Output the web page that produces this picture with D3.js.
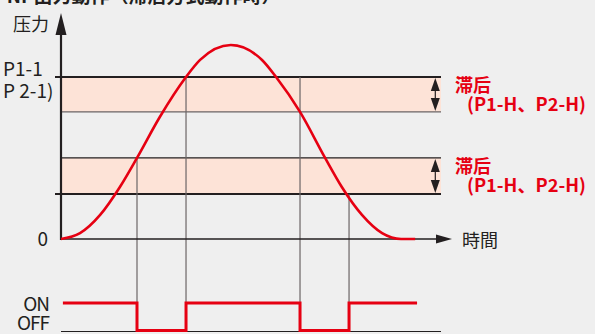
<!DOCTYPE html>
<html>
<head>
<meta charset="utf-8">
<script src="https://d3js.org/d3.v7.min.js"></script>
<style>
  html, body { margin: 0; padding: 0; background: #efefef; }
  svg { display: block; font-family: "Noto Sans CJK JP", "Noto Sans", sans-serif; }
</style>
</head>
<body>
<div id="chart"></div>
<script>
////////////////////
// DATA

// pressure curve (time 0-100, pressure 0-100)
var curveTime = [0, 5, 10.3, 15.5, 20, 26, 32.9, 36.6, 44.7, 52.9, 56.6, 62.9, 69.5, 73.9, 79.2, 84.5, 89.5, 93.2];
var curvePressure = [0, 3, 12.4, 26.8, 41.8, 62.9, 83.5, 92.3, 100, 92.3, 83.5, 65.5, 41.8, 26.8, 12.4, 3, 0, 0];

// hysteresis bands [low, high]
var bandLow = [65.5, 23.2];
var bandHigh = [83.5, 41.8];
var bandLabel = ["滞后", "滞后"];
var bandSub = ["(P1-H、P2-H)", "(P1-H、P2-H)"];

// switching points and the level each guide line starts from
var switchTime = [20, 32.9, 62.9, 75.8];
var switchLevel = [41.8, 83.5, 83.5, 23.2];

// output states
var outTime = [0.5, 20, 20, 32.9, 32.9, 62.9, 62.9, 75.8, 75.8, 93.7];
var outState = ["ON", "ON", "OFF", "OFF", "ON", "ON", "OFF", "OFF", "ON", "ON"];

var yLabels = ["P1-1", "P 2-1)"];
var title = "PNP出力動作（滞后方式動作時）";

////////////////////
// SETUP
var w = 595, h = 334;
var red = "#e60012";
var ink = "#231f20";

var x = d3.scaleLinear().domain([0, 100]).range([61, 441]);
var y = d3.scaleLinear().domain([0, 100]).range([239, 45]);
var yOut = d3.scaleOrdinal().domain(["ON", "OFF"]).range([303, 330.5]);

var svg = d3.select("#chart").append("svg")
  .attr("width", w)
  .attr("height", h);

// title (cut off at the top in the original)
svg.append("text")
  .attr("x", -6).attr("y", 3)
  .attr("font-size", 19).attr("font-weight", "bold")
  .attr("fill", ink)
  .text(title);

////////////////////
// BANDS
var bands = d3.range(bandLow.length);

svg.selectAll("rect.band")
  .data(bands).enter().append("rect")
  .attr("class", "band")
  .attr("x", x(0))
  .attr("y", function(i) { return y(bandHigh[i]); })
  .attr("width", x(100) - x(0))
  .attr("height", function(i) { return y(bandLow[i]) - y(bandHigh[i]); })
  .attr("fill", "#fde3d7");

// band edges: the outer ones carry a small tick on the axis
svg.selectAll("line.hi")
  .data(bands).enter().append("line")
  .attr("x1", function(i) { return i == 0 ? x(0) - 6 : x(0); })
  .attr("x2", x(100))
  .attr("y1", function(i) { return y(bandHigh[i]); })
  .attr("y2", function(i) { return y(bandHigh[i]); })
  .attr("stroke", ink).attr("stroke-width", function(i) { return i == 0 ? 1.8 : 1.3; });

svg.selectAll("line.lo")
  .data(bands).enter().append("line")
  .attr("x1", function(i) { return i == 1 ? x(0) - 6 : x(0); })
  .attr("x2", x(100))
  .attr("y1", function(i) { return y(bandLow[i]); })
  .attr("y2", function(i) { return y(bandLow[i]); })
  .attr("stroke", function(i) { return i == 0 ? "#6b6566" : ink; })
  .attr("stroke-width", function(i) { return i == 1 ? 1.8 : 1.3; });

// double arrows + labels
var ax = x(98.5);
bands.forEach(function(i) {
  var top = y(bandHigh[i]), bot = y(bandLow[i]);
  svg.append("line")
    .attr("x1", ax).attr("x2", ax)
    .attr("y1", top + 4).attr("y2", bot - 4)
    .attr("stroke", ink).attr("stroke-width", 1.2);
  svg.append("path")
    .attr("d", "M" + ax + "," + (top + 1) + "L" + (ax - 4.5) + "," + (top + 14) + "L" + (ax + 4.5) + "," + (top + 14) + "Z")
    .attr("fill", ink);
  svg.append("path")
    .attr("d", "M" + ax + "," + (bot - 1) + "L" + (ax - 4.5) + "," + (bot - 14) + "L" + (ax + 4.5) + "," + (bot - 14) + "Z")
    .attr("fill", ink);
  svg.append("text")
    .attr("x", 455).attr("y", top + 15)
    .attr("font-size", 18).attr("font-weight", "bold").attr("fill", red)
    .text(bandLabel[i]);
  svg.append("text")
    .attr("x", 467).attr("y", top + 34)
    .attr("font-size", 18).attr("font-weight", "bold").attr("fill", red)
    .attr("textLength", 119).attr("lengthAdjust", "spacingAndGlyphs")
    .text(bandSub[i]);
});

////////////////////
// GUIDE LINES
svg.selectAll("line.guide")
  .data(switchTime).enter().append("line")
  .attr("x1", function(d) { return x(d); })
  .attr("x2", function(d) { return x(d); })
  .attr("y1", function(d, i) { return y(switchLevel[i]); })
  .attr("y2", yOut("OFF"))
  .attr("stroke", "#6b6566").attr("stroke-width", 1.2);

////////////////////
// AXES
svg.append("line")
  .attr("x1", x(0)).attr("x2", x(0))
  .attr("y1", y(0) + 1).attr("y2", 30)
  .attr("stroke", ink).attr("stroke-width", 2.2);
svg.append("path")
  .attr("d", "M" + x(0) + ",13L" + (x(0) - 5.5) + ",35L" + (x(0) + 5.5) + ",35Z")
  .attr("fill", ink);

svg.append("line")
  .attr("x1", x(0)).attr("x2", 440)
  .attr("y1", y(0)).attr("y2", y(0))
  .attr("stroke", ink).attr("stroke-width", 1.6);
svg.append("path")
  .attr("d", "M452," + y(0) + "L436," + (y(0) - 4.5) + "L436," + (y(0) + 4.5) + "Z")
  .attr("fill", ink);

svg.append("text").attr("x", 13).attr("y", 31)
  .attr("font-size", 18).attr("fill", ink).text("压力");
svg.append("text").attr("x", 462).attr("y", 247)
  .attr("font-size", 18).attr("fill", ink).text("時間");
svg.append("text").attr("x", 48).attr("y", 246)
  .attr("text-anchor", "end")
  .attr("font-size", 19).attr("fill", ink).text("0");

svg.selectAll("text.ylab")
  .data(yLabels).enter().append("text")
  .attr("x", 3)
  .attr("y", function(d, i) { return 76 + i * 22; })
  .attr("font-size", 19).attr("fill", ink)
  .text(function(d) { return d; });

////////////////////
// PRESSURE CURVE
var line = d3.line()
  .x(function(d) { return x(d[0]); })
  .y(function(d) { return y(d[1]); })
  .curve(d3.curveMonotoneX);

svg.append("path")
  .datum(d3.zip(curveTime, curvePressure))
  .attr("d", line)
  .attr("fill", "none")
  .attr("stroke", red).attr("stroke-width", 2.6);

////////////////////
// OUTPUT
svg.append("line")
  .attr("x1", x(0)).attr("x2", x(100))
  .attr("y1", 331.5).attr("y2", 331.5)
  .attr("stroke", ink).attr("stroke-width", 1.2);

var outLine = d3.line()
  .x(function(d) { return x(d[0]); })
  .y(function(d) { return yOut(d[1]); });

svg.append("path")
  .datum(d3.zip(outTime, outState))
  .attr("d", outLine)
  .attr("fill", "none")
  .attr("stroke", red).attr("stroke-width", 3);

var stateBase = { "ON": 311, "OFF": 330 };
svg.selectAll("text.state")
  .data(yOut.domain()).enter().append("text")
  .attr("x", 49)
  .attr("y", function(d) { return stateBase[d]; })
  .attr("text-anchor", "end")
  .attr("letter-spacing", -1)
  .attr("font-size", 19).attr("fill", ink)
  .text(function(d) { return d; });
</script>
</body>
</html>
